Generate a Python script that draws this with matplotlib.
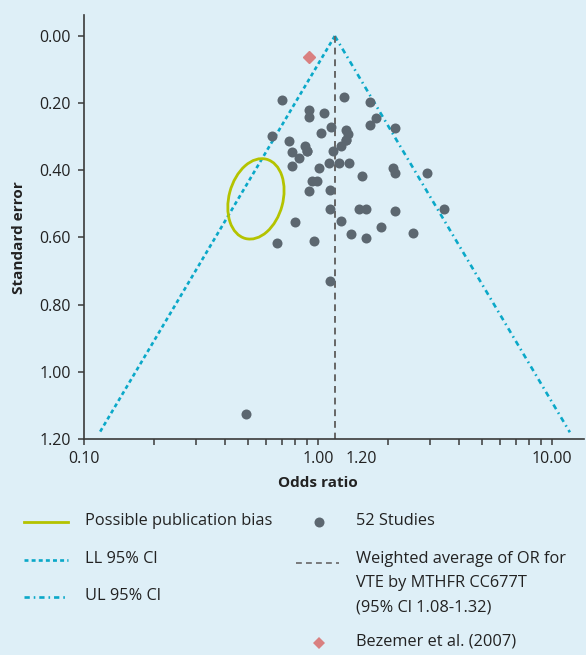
"""
Funnel plot: MTHFR C677T studies and VTE, standard error vs odds ratio.
"""
import numpy as np
import matplotlib
matplotlib.use("Agg")
import matplotlib.pyplot as plt
from matplotlib.lines import Line2D
from matplotlib.patches import Ellipse
from matplotlib.transforms import IdentityTransform
from matplotlib.ticker import LogLocator, NullFormatter

plt.rcParams['font.family'] = ['Open Sans', 'DejaVu Sans']

# odds ratio and standard error of the 52 studies
study_or = [0.703, 1.289, 1.676, 0.913, 0.913, 1.059, 1.761, 1.676, 2.129, 0.639,
            1.142, 1.035, 1.320, 1.344, 1.311, 1.260, 0.755, 0.876, 0.893, 0.776,
            0.829, 1.161, 0.776, 1.007, 1.114, 1.229, 1.354, 2.088, 2.133, 2.931,
            1.537, 0.941, 0.988, 0.913, 1.120, 1.120, 1.490, 1.596, 2.129, 3.439,
            0.794, 1.258, 1.864, 0.671, 0.959, 1.386, 1.599, 2.555, 1.120, 0.492,
            1.311, 0.893]
study_se = [0.190, 0.181, 0.196, 0.220, 0.242, 0.230, 0.245, 0.265, 0.275, 0.298,
            0.271, 0.289, 0.279, 0.293, 0.310, 0.327, 0.312, 0.329, 0.342, 0.345,
            0.363, 0.342, 0.387, 0.394, 0.379, 0.379, 0.379, 0.392, 0.409, 0.408,
            0.416, 0.431, 0.431, 0.461, 0.460, 0.514, 0.514, 0.514, 0.521, 0.514,
            0.553, 0.550, 0.568, 0.615, 0.609, 0.590, 0.601, 0.586, 0.731, 1.126,
            0.310, 0.342]

bezemer_or = 0.913
bezemer_se = 0.063

pooled_or = 1.18        # weighted average OR
funnel_se_max = 1.18

# region of possible publication bias
bias_or = 0.543
bias_se = 0.485

y_ticks = [0.0, 0.2, 0.4, 0.6, 0.8, 1.0, 1.2]
y_labels = ['0.00', '0.20', '0.40', '0.60', '0.80', '1.00', '1.20']
x_ticks = [0.1, 1.0, 10.0]
x_labels = ['0.10', '1.00', '10.00']

BG = '#deeff7'
DOT = '#5c6770'
CYAN = '#0aa8c8'
LIME = '#b4c300'
ROSE = '#d98080'
AXC = '#3a3a3a'
TXT = '#222222'
LEG_FS = 11.8
TICK_FS = 11.5

W, H = 586, 655
fig = plt.figure(figsize=(W / 100, H / 100), dpi=100, facecolor=BG)
ax = fig.add_axes([84 / W, 1 - 439 / H, 500 / W, 424 / H])
ax.set_facecolor(BG)

ax.set_xscale('log')
ax.set_xlim(0.1, 13.7)
ax.set_ylim(1.2, -0.0625)

# funnel limits
se = np.linspace(0, funnel_se_max, 60)
ll = pooled_or * np.exp(-1.96 * se)
ul = pooled_or * np.exp(1.96 * se)
ax.plot(ll, se, color=CYAN, lw=1.9, dashes=(1.5, 1.2))
ax.plot(ul, se, color=CYAN, lw=1.9, dashes=(2.0, 1.5, 0.6, 1.5))

# weighted average
ax.plot([pooled_or, pooled_or], [0, 1.2], color='#666666', lw=1.4, dashes=(3.5, 2.5))

ax.scatter(study_or, study_se, s=52, color=DOT, linewidths=0, zorder=3)
ax.plot([bezemer_or], [bezemer_se], marker='D', ms=6.3, color=ROSE, ls='none', zorder=4)

# ellipse drawn in pixels around its data centre
cx, cy = ax.transData.transform((bias_or, bias_se))
ax.add_artist(Ellipse((cx, cy), width=54, height=82, angle=-15, fill=False,
                      edgecolor=LIME, lw=2.0, transform=IdentityTransform(), zorder=2))

# axes styling
for side in ['top', 'right']:
    ax.spines[side].set_visible(False)
for side in ['left', 'bottom']:
    ax.spines[side].set_color(AXC)
    ax.spines[side].set_linewidth(1.2)

ax.set_yticks(y_ticks, y_labels)
ax.set_xticks(x_ticks, x_labels)
ax.xaxis.set_minor_locator(LogLocator(base=10, subs=np.arange(2, 10)))
ax.xaxis.set_minor_formatter(NullFormatter())
ax.tick_params(axis='both', which='both', direction='out', length=4.2, width=1.1,
               color=AXC, labelcolor=TXT, labelsize=TICK_FS)
ax.tick_params(axis='y', pad=5)
ax.tick_params(axis='x', pad=4.5)
ax.annotate('1.20', xy=(1.0, 0), xycoords=('data', 'axes fraction'),
            xytext=(31, -8.7), textcoords='offset points', ha='center', va='top',
            fontsize=TICK_FS, color=TXT)

ax.set_xlabel('Odds ratio', fontsize=11, fontweight='bold', color=TXT)
ax.set_ylabel('Standard error', fontsize=11, fontweight='bold', color=TXT)
ax.xaxis.set_label_coords((318 - 84) / 500, -(476 - 439) / 424)
ax.yaxis.set_label_coords(-(84 - 26) / 500, (439 - 238) / 424)


def fx(px):
    return px / W


def fy(py):
    return 1 - py / H


def sample(x0, x1, y, **kw):
    fig.add_artist(Line2D([fx(x0), fx(x1)], [fy(y), fy(y)], transform=fig.transFigure, **kw))


def label(x, y, s):
    fig.text(fx(x), fy(y), s, fontsize=LEG_FS, color=TXT, va='center', ha='left')


# legend, left column
sample(24, 68, 522, color=LIME, lw=2.0)
label(85, 521, 'Possible publication bias')
sample(24, 68, 560, color=CYAN, lw=1.9, dashes=(1.5, 1.2))
label(85, 559, 'LL 95% Cl')
sample(24, 68, 597, color=CYAN, lw=1.9, dashes=(2.0, 1.5, 0.6, 1.5))
label(85, 596, 'UL 95% Cl')

# legend, right column
fig.add_artist(Line2D([fx(319)], [fy(522)], transform=fig.transFigure, marker='o',
                      ms=7.2, color=DOT, ls='none', mew=0))
label(356, 521, '52 Studies')
sample(296, 339, 563, color='#666666', lw=1.2, dashes=(3.5, 2.5))
label(356, 559, 'Weighted average of OR for')
label(356, 583, 'VTE by MTHFR CC677T')
label(356, 607, '(95% Cl 1.08-1.32)')
fig.add_artist(Line2D([fx(319)], [fy(643)], transform=fig.transFigure, marker='D',
                      ms=6.3, color=ROSE, ls='none', mew=0))
label(356, 642, 'Bezemer et al. (2007)')

fig.savefig('out.png', dpi=100, facecolor=BG)
